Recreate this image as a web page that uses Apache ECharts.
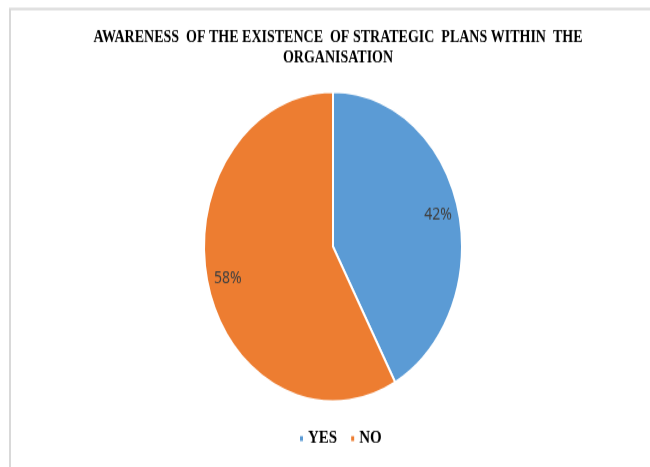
<!DOCTYPE html>
<html><head><meta charset="utf-8">
<script src="https://cdn.jsdelivr.net/npm/echarts@6/dist/echarts.min.js"></script>
<style>
html,body{margin:0;padding:0;background:#fff;overflow:hidden;}
#wrap{width:650px;height:467px;overflow:hidden;position:relative;}
#c{width:650px;height:389px;transform:scaleY(1.2);transform-origin:0 0;}
</style></head>
<body><div id="wrap"><div id="c"></div></div>
<script>
const titleText = 'AWARENESS  OF THE EXISTENCE  OF STRATEGIC  PLANS WITHIN  THE\nORGANISATION';
const categories = ['YES', 'NO'];
const values = [42, 58];
const colors = ['#5b9bd5', '#ed7d31'];

const data = categories.map((c, i) => ({ name: c, value: values[i], itemStyle: { color: colors[i] } }));
const chart = echarts.init(document.getElementById('c'), null, { renderer: 'canvas' });
chart.setOption({
  animation: false,
  backgroundColor: '#fff',
  graphic: [{
    type: 'rect', shape: { x: 10, y: 7.5, width: 700, height: 420 },
    style: { fill: 'none', stroke: '#d9d9d9', lineWidth: 2 }, silent: true, z: -1
  }],
  title: {
    text: titleText, left: 333, textAlign: 'center', top: 18,
    textStyle: { fontFamily: 'Liberation Serif', fontWeight: 'bold', fontSize: 14, color: '#000', lineHeight: 17 }
  },
  legend: {
    data: categories, bottom: 11, left: 293, itemWidth: 5, itemHeight: 6, itemGap: 12,
    icon: 'rect',
    textStyle: { fontFamily: 'Liberation Serif', fontWeight: 'bold', fontSize: 15, color: '#000', padding: [0, 0, 0, -1] }
  },
  series: [{
    type: 'pie', center: [333, 205.5], radius: [0, 129], startAngle: 90, clockwise: true,
    data: data, label: { show: false }, labelLine: { show: false },
    itemStyle: { borderColor: '#fff', borderWidth: 2 }, emphasis: { disabled: true }
  }, {
    type: 'pie', center: [333, 205.5], radius: [82, 129], startAngle: 90, clockwise: true,
    data: data.map(d => ({ name: d.name, value: d.value })),
    itemStyle: { color: 'rgba(0,0,0,0)', borderWidth: 0 }, silent: true, legendHoverLink: false,
    label: { show: true, position: 'inside', formatter: '{c}%', fontFamily: 'Noto Sans', fontSize: 14, color: '#404040' },
    labelLine: { show: false }, emphasis: { disabled: true }
  }]
});
</script></body></html>
